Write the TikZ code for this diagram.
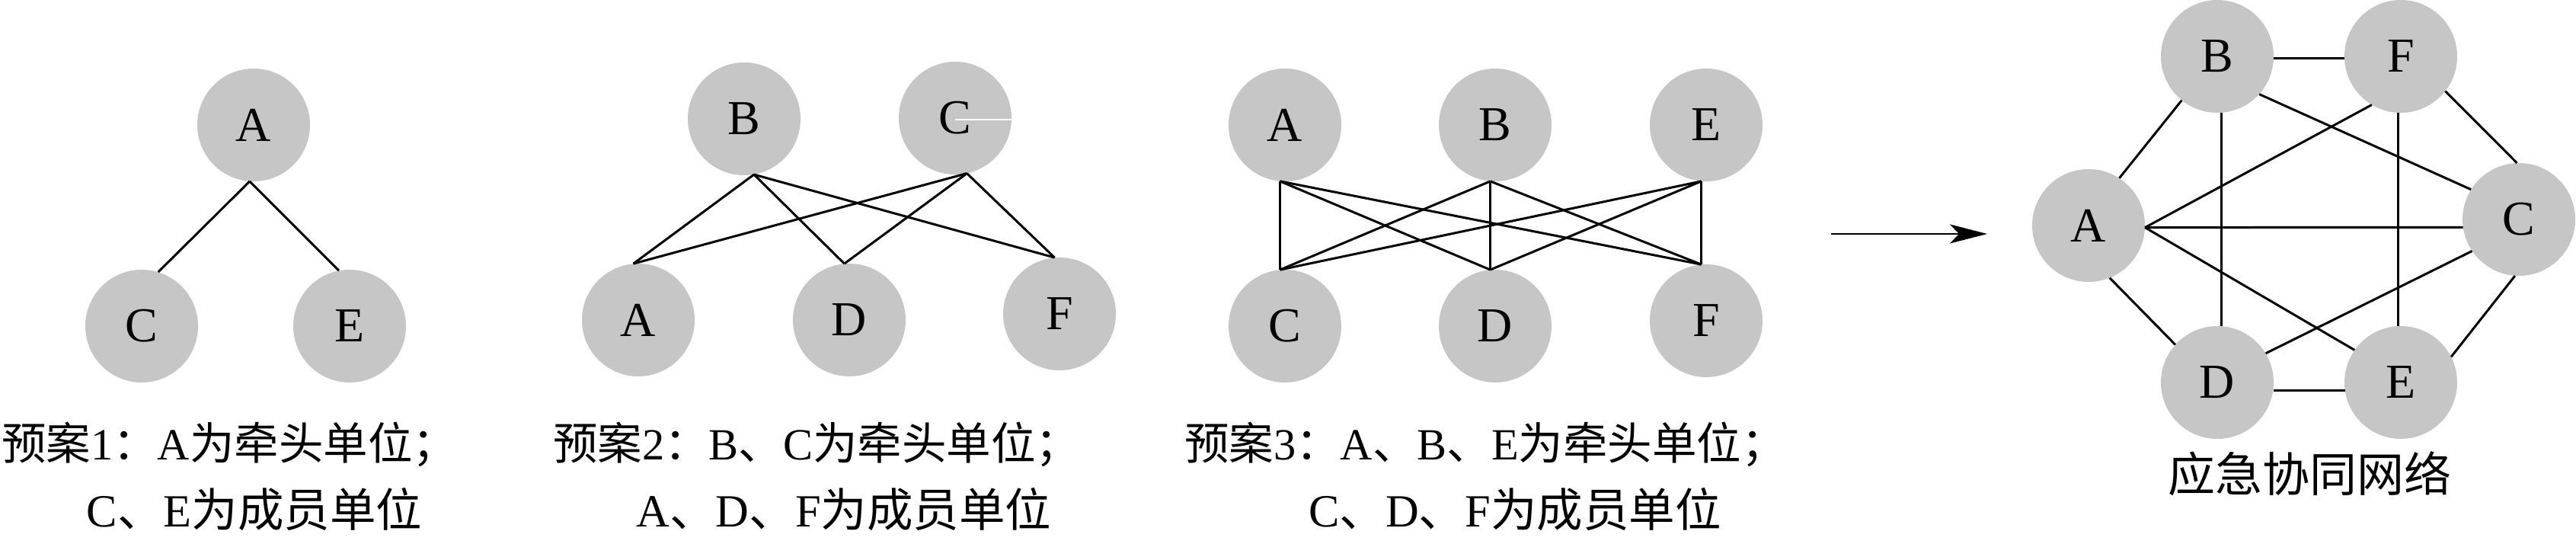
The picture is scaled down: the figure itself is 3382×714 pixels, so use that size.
\documentclass[tikz,border=0pt]{standalone}
\usepackage{fontspec}
\setmainfont{Liberation Serif}
\newfontfamily\cjk{Noto Sans CJK SC}
\usetikzlibrary{arrows.meta}
\definecolor{nodegray}{RGB}{198,198,198}
\begin{document}
\begin{tikzpicture}[x=1pt,y=-1pt,
  unit/.style={circle,fill=nodegray,minimum size=148pt,inner sep=0pt,
    font=\fontsize{64}{64}\selectfont},
  link/.style={line width=3pt,black},
  captext/.style={inner sep=0pt,font=\fontsize{58.5}{60}\selectfont},
  captwo/.style={inner sep=0pt,font=\fontsize{60.5}{62}\selectfont},
  bigarrow/.style={line width=2.7pt,-{Stealth[length=49pt,width=25pt,inset=12pt]}}
]
\useasboundingbox (0,0) rectangle (3382,714);
\fill[white] (0,0) rectangle (3382,714);

% ---------- panel 1 ----------
\node[unit] (A1) at (333,164) {A};
\node[unit] (C1) at (186,428) {C};
\node[unit] (E1) at (459,428) {E};
\draw[link] (A1.-94) -- (C1.73);
\draw[link] (A1.-94) -- (E1.101);
\node[captext,anchor=base west] (cap1a) at (2,603) {{\cjk 预案}1{\cjk ：}A{\cjk 为牵头单位；}};
\node[captwo,anchor=base] (cap1b) at (334,691) {C{\cjk 、}E{\cjk 为成员单位}};

% ---------- panel 2 ----------
\node[unit] (B2) at (977,156) {B};
\node[unit] (C2) at (1254,155) {C};
\node[unit] (A2) at (838,420) {A};
\node[unit] (D2) at (1115,420) {D};
\node[unit] (F2) at (1391,412) {F};
\draw[white,line width=1.5pt] ([yshift=-2pt]C2.center) -- ([yshift=-2pt]C2.east);
\foreach \t in {A2,D2,F2}{
  \draw[link] (B2.-80) -- (\t.95);
  \draw[link] (C2.-78) -- (\t.95);
}
\node[captext,anchor=base west] (cap2a) at (726,603) {{\cjk 预案}2{\cjk ：}B{\cjk 、}C{\cjk 为牵头单位；}};
\node[captwo,anchor=base] (cap2b) at (1108,691) {A{\cjk 、}D{\cjk 、}F{\cjk 为成员单位}};

% ---------- panel 3 ----------
\node[unit] (A3) at (1687,164) {A};
\node[unit] (B3) at (1963,164) {B};
\node[unit] (E3) at (2240,164) {E};
\node[unit] (C3) at (1687,428) {C};
\node[unit] (D3) at (1963,428) {D};
\node[unit] (F3) at (2240,421) {F};
\foreach \s in {A3,B3,E3}{
  \foreach \t in {C3,D3,F3}{
    \draw[link] (\s.-95) -- (\t.95);
  }
}
\node[captext,anchor=base west] (cap3a) at (1555,603) {{\cjk 预案}3{\cjk ：}A{\cjk 、}B{\cjk 、}E{\cjk 为牵头单位；}};
\node[captwo,anchor=base] (cap3b) at (1989,691) {C{\cjk 、}D{\cjk 、}F{\cjk 为成员单位}};

% ---------- arrow ----------
\coordinate (arrS) at (2404,307);
\coordinate (arrE) at (2609,307);
\draw[bigarrow] (arrS) -- (arrE);

% ---------- panel 4 ----------
\node[unit] (B4) at (2911,74) {B};
\node[unit] (F4) at (3152,74) {F};
\node[unit] (A4) at (2742,296) {A};
\node[unit] (C4) at (3307,288) {C};
\node[unit] (D4) at (2911,502) {D};
\node[unit] (E4) at (3152,502) {E};
\draw[link] (B4.-2) -- (F4.182);
\draw[link] (D4.-8) -- (E4.188);
\draw[link] (A4.57) -- (B4.-129);
\draw[link] (A4.-68) -- (D4.138);
\draw[link] (F4.-38) -- (C4.92);
\draw[link] (E4.27) -- (C4.-94);
\draw[link] (B4.-86) -- (D4.86);
\draw[link] (F4.-93) -- (E4.93);
\draw[link] (B4.-42) -- (C4.148);
\draw[link] (A4.-2) -- (F4.-121);
\draw[link] (A4.-2) -- (C4.188);
\draw[link] (A4.-2) -- (E4.145);
\draw[link] (D4.31) -- (C4.-146);
\node[captext,anchor=base,font=\fontsize{62}{62}\selectfont] (cap4) at (3032,645) {\cjk 应急协同网络};
\end{tikzpicture}
\end{document}
